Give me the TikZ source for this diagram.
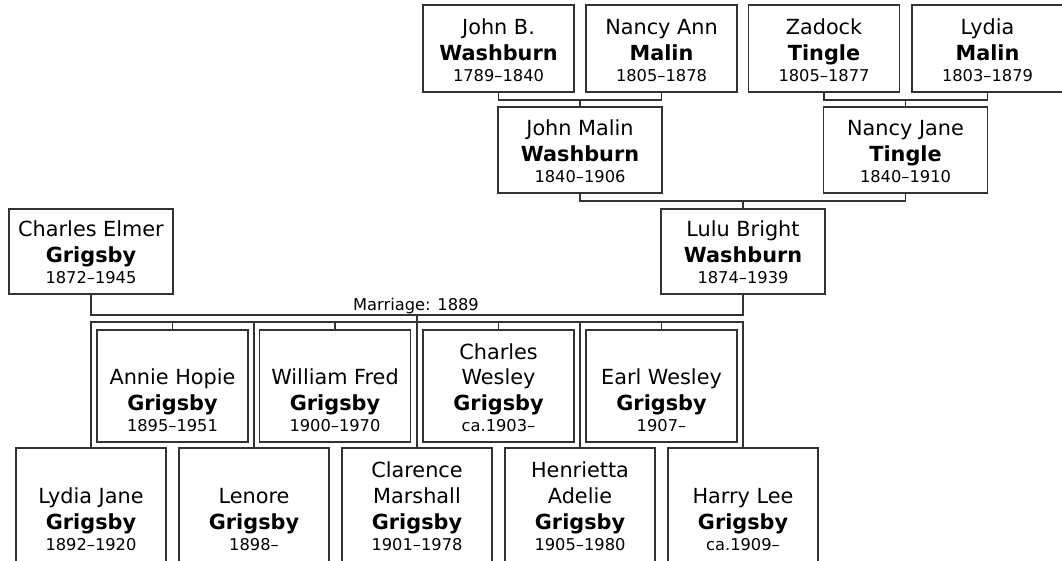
\documentclass[tikz,border=0pt]{standalone}
\usepackage{fontspec}
\setmainfont{DejaVu Sans}
\usepackage{tikz}
\usetikzlibrary{calc}
\usepackage{xcolor}
\definecolor{tree}{HTML}{333333}
\newcommand{\yrs}{\fontsize{12.2}{15}\selectfont}

\begin{document}
\begin{tikzpicture}[x=0.75pt, y=-0.75pt,
    pbox/.style={draw=tree, line width=1.4pt, inner sep=0pt, minimum width=113.25pt},
    ptxt/.style={anchor=south, align=center, inner sep=0pt, font=\fontsize{15.6}{19.3}\selectfont},
    link/.style={draw=tree, line width=1.4pt}]
    \useasboundingbox (0,0) rectangle (1062,560);

    % grandparents
    \node[pbox, minimum height=65.25pt] (jbw) at (498.5,48.5) {};
    \node[ptxt] (jbw-t) at ([yshift=8pt]jbw.south) {John B.\\\textbf{Washburn}\\[-3.5pt]\yrs 1789–1840};
    \node[pbox, minimum height=65.25pt] (nam) at (661.5,48.5) {};
    \node[ptxt] (nam-t) at ([yshift=8pt]nam.south) {Nancy Ann\\\textbf{Malin}\\[-3.5pt]\yrs 1805–1878};
    \node[pbox, minimum height=65.25pt] (zt) at (824,48.5) {};
    \node[ptxt] (zt-t) at ([yshift=8pt]zt.south) {Zadock\\\textbf{Tingle}\\[-3.5pt]\yrs 1805–1877};
    \node[pbox, minimum height=65.25pt] (lm) at (987.5,48.5) {};
    \node[ptxt] (lm-t) at ([yshift=8pt]lm.south) {Lydia\\\textbf{Malin}\\[-3.5pt]\yrs 1803–1879};

    % parents of Lulu
    \node[pbox, minimum width=123pt, minimum height=64.5pt] (jmw) at (580,150) {};
    \node[ptxt] (jmw-t) at ([yshift=8pt]jmw.south) {John Malin\\\textbf{Washburn}\\[-3.5pt]\yrs 1840–1906};
    \node[pbox, minimum width=123pt, minimum height=64.5pt] (njt) at (905.5,150) {};
    \node[ptxt] (njt-t) at ([yshift=8pt]njt.south) {Nancy Jane\\\textbf{Tingle}\\[-3.5pt]\yrs 1840–1910};

    % couple
    \node[pbox, minimum width=123pt, minimum height=63.75pt] (ceg) at (91,251.5) {};
    \node[ptxt] (ceg-t) at ([yshift=8pt]ceg.south) {Charles Elmer\\\textbf{Grigsby}\\[-3.5pt]\yrs 1872–1945};
    \node[pbox, minimum width=123pt, minimum height=63.75pt] (lbw) at (743,251.5) {};
    \node[ptxt] (lbw-t) at ([yshift=8pt]lbw.south) {Lulu Bright\\\textbf{Washburn}\\[-3.5pt]\yrs 1874–1939};

    % children, upper row
    \node[pbox, minimum height=84pt] (ahg) at (172.5,386) {};
    \node[ptxt] (ahg-t) at ([yshift=8pt]ahg.south) {Annie Hopie\\\textbf{Grigsby}\\[-3.5pt]\yrs 1895–1951};
    \node[pbox, minimum height=84pt] (wfg) at (335,386) {};
    \node[ptxt] (wfg-t) at ([yshift=8pt]wfg.south) {William Fred\\\textbf{Grigsby}\\[-3.5pt]\yrs 1900–1970};
    \node[pbox, minimum height=84pt] (cwg) at (498.5,386) {};
    \node[ptxt] (cwg-t) at ([yshift=8pt]cwg.south) {Charles\\Wesley\\\textbf{Grigsby}\\[-3.5pt]\yrs ca.1903–};
    \node[pbox, minimum height=84pt] (ewg) at (661.5,386) {};
    \node[ptxt] (ewg-t) at ([yshift=8pt]ewg.south) {Earl Wesley\\\textbf{Grigsby}\\[-3.5pt]\yrs 1907–};

    % children, lower row
    \node[pbox, minimum width=112.5pt, minimum height=91.5pt] (ljg) at (91,509) {};
    \node[ptxt] (ljg-t) at ([yshift=15pt]ljg.south) {Lydia Jane\\\textbf{Grigsby}\\[-3.5pt]\yrs 1892–1920};
    \node[pbox, minimum width=112.5pt, minimum height=91.5pt] (lg) at (254,509) {};
    \node[ptxt] (lg-t) at ([yshift=15pt]lg.south) {Lenore\\\textbf{Grigsby}\\[-3.5pt]\yrs 1898–};
    \node[pbox, minimum width=112.5pt, minimum height=91.5pt] (cmg) at (417,509) {};
    \node[ptxt] (cmg-t) at ([yshift=15pt]cmg.south) {Clarence\\Marshall\\\textbf{Grigsby}\\[-3.5pt]\yrs 1901–1978};
    \node[pbox, minimum width=112.5pt, minimum height=91.5pt] (hag) at (580,509) {};
    \node[ptxt] (hag-t) at ([yshift=15pt]hag.south) {Henrietta\\Adelie\\\textbf{Grigsby}\\[-3.5pt]\yrs 1905–1980};
    \node[pbox, minimum width=112.5pt, minimum height=91.5pt] (hlg) at (743,509) {};
    \node[ptxt] (hlg-t) at ([yshift=15pt]hlg.south) {Harry Lee\\\textbf{Grigsby}\\[-3.5pt]\yrs ca.1909–};

    % lines
    \coordinate (m1) at (580,100);
    \coordinate (m2) at (905.5,100);
    \coordinate (m3) at (743,201);
    \coordinate (m4) at (417,315);
    \coordinate (m5) at (417,322);
    \draw[link] (jbw.south) |- (m1) -| (nam.south);
    \draw[link] (m1) -- (jmw.north);
    \draw[link] (zt.south) |- (m2) -| (lm.south);
    \draw[link] (m2) -- (njt.north);
    \draw[link] (jmw.south) |- (m3) -| (njt.south);
    \draw[link] (m3) -- (lbw.north);
    \draw[link] (ceg.south) |- (m4) -| (lbw.south);
    \node[anchor=base, inner sep=0pt, font=\fontsize{12.2}{14}\selectfont] (mlabel) at (416,310) {Marriage: 1889};
    \draw[link] (m4) -- (cmg.north);
    \draw[link] (ljg.north) -- (ljg.north |- m5) -- (hlg.north |- m5) -- (hlg.north);
    \foreach \c in {lg,hag,ahg,wfg,cwg,ewg}
        \draw[link] (\c.north) -- (\c.north |- m5);
\end{tikzpicture}
\end{document}
